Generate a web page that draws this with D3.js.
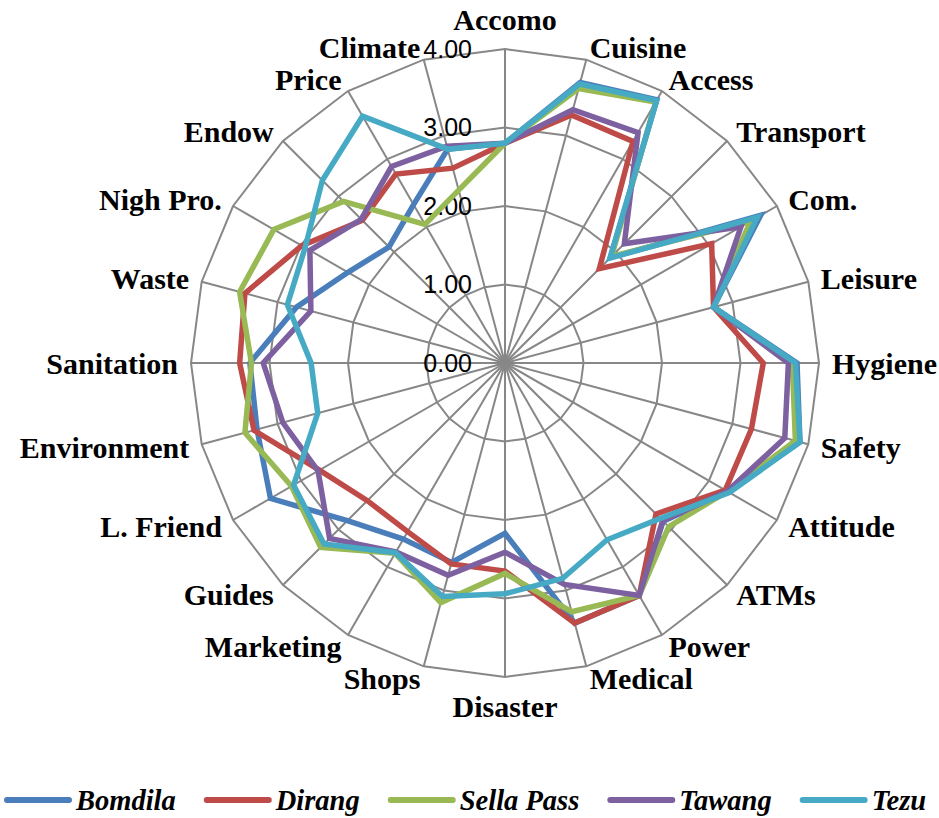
<!DOCTYPE html>
<html><head><meta charset="utf-8">
<script src="https://cdn.jsdelivr.net/npm/d3@7"></script>
<style>body{margin:0;background:#fff}svg{display:block}</style>
</head><body><svg id="c" width="939" height="818"></svg>
<script>
const categories = ["Accomo","Cuisine","Access","Transport","Com.","Leisure","Hygiene","Safety","Attitude","ATMs","Power","Medical","Disaster","Shops","Marketing","Guides","L. Friend","Environment","Sanitation","Waste","Nigh Pro.","Endow","Price","Climate"];
const seriesNames = ["Bomdila","Dirang","Sella Pass","Tawang","Tezu"];
const bomdila = [2.80,3.70,3.87,1.90,3.76,2.75,3.72,3.89,3.28,2.85,3.42,3.43,2.17,2.63,2.59,2.84,3.45,3.27,3.25,2.75,2.31,2.09,2.33,2.82];
const dirang  = [2.80,3.27,3.26,1.70,3.04,2.75,3.29,3.25,3.24,2.72,3.42,3.43,2.65,2.65,2.48,2.48,2.73,3.31,3.38,3.43,2.99,2.57,2.78,2.57];
const sellaPass = [2.80,3.62,3.84,1.92,3.61,2.75,3.66,3.83,3.27,2.95,3.42,3.28,2.68,3.16,2.80,3.32,3.14,3.43,3.23,3.50,3.40,2.91,2.04,2.28];
const tawang  = [2.80,3.34,3.39,2.15,3.47,2.75,3.61,3.69,3.27,2.84,3.42,2.92,2.41,2.80,2.78,3.16,2.75,2.93,3.08,2.56,2.87,2.59,2.89,2.86];
const tezu    = [2.80,3.68,3.86,1.89,3.71,2.75,3.70,3.89,3.30,2.80,2.60,2.84,2.94,3.08,2.79,3.26,3.11,2.47,2.47,2.87,2.94,3.29,3.63,2.82];
const tickValues = [0,1,2,3,4];
const tickLabels = ["0.00","1.00","2.00","3.00","4.00"];
const colors = ["#4A7EBB","#BE4B48","#98B954","#7D60A0","#46AAC5"];

const allSeries = [bomdila, dirang, sellaPass, tawang, tezu];
const svg = d3.select("#c");
const cx = 505, cy = 363, R = 314;
const r = d3.scaleLinear().domain([0,4]).range([0,R]);
const ang = d3.scaleLinear().domain([0,categories.length]).range([0,2*Math.PI]);
const g = svg.append("g").attr("transform",`translate(${cx},${cy})`);
const pt = (i,v)=>[Math.sin(ang(i))*r(v), -Math.cos(ang(i))*r(v)];

// grid rings
tickValues.filter(t=>t>0).forEach(t=>{
  g.append("path")
   .attr("d", d3.line()(categories.map((c,i)=>pt(i,t))) + "Z")
   .attr("fill","none").attr("stroke","#878787").attr("stroke-width",2);
});
// spokes
categories.forEach((c,i)=>{
  const p = pt(i,4);
  g.append("line").attr("x1",0).attr("y1",0).attr("x2",p[0]).attr("y2",p[1])
   .attr("stroke","#878787").attr("stroke-width",2);
});
// tick labels
tickValues.forEach((t,k)=>{
  g.append("text").attr("x",-33).attr("y",-r(t)).attr("dy","0.35em")
   .attr("text-anchor","end").attr("font-family","Liberation Sans, Arial, sans-serif")
   .attr("font-size",25).attr("fill","#000").text(tickLabels[k]);
});
// series
const line = d3.lineRadial().angle((d,i)=>ang(i)).radius(d=>r(d)).curve(d3.curveLinearClosed);
allSeries.forEach((s,k)=>{
  g.append("path").attr("d",line(s)).attr("fill","none")
   .attr("stroke",colors[k]).attr("stroke-width",5.5).attr("stroke-linejoin","miter");
});
// category labels
categories.forEach((c,i)=>{
  const a = ang(i);
  const p = pt(i,4);
  const off = 13;
  let x = p[0] + off*Math.sin(a), y = p[1] - off*Math.cos(a);
  const s = Math.sin(a);
  let anchor = "middle";
  if (s > 0.01) anchor = "start"; else if (s < -0.01) anchor = "end";
  if (anchor === "middle") y += (Math.cos(a) > 0 ? -17 : 16);
  g.append("text").attr("x",x).attr("y",y).attr("dy","0.35em")
   .attr("text-anchor",anchor).attr("font-family","Liberation Serif, 'Times New Roman', serif")
   .attr("font-weight","bold").attr("font-size",30).attr("fill","#000").text(c);
});
// legend
const lg = svg.append("g");
let lx = 4; const ly = 800;
seriesNames.forEach((n,k)=>{
  lg.append("line").attr("x1",lx+3).attr("x2",lx+65).attr("y1",ly).attr("y2",ly)
    .attr("stroke",colors[k]).attr("stroke-width",6).attr("stroke-linecap","round");
  const t = lg.append("text").attr("x",lx+72).attr("y",ly).attr("dy","0.35em")
    .attr("font-family","Liberation Serif, 'Times New Roman', serif")
    .attr("font-weight","bold").attr("font-style","italic").attr("font-size",28.5).text(n);
  lx = lx + 72 + t.node().getComputedTextLength() + 28;
});
</script></body></html>
